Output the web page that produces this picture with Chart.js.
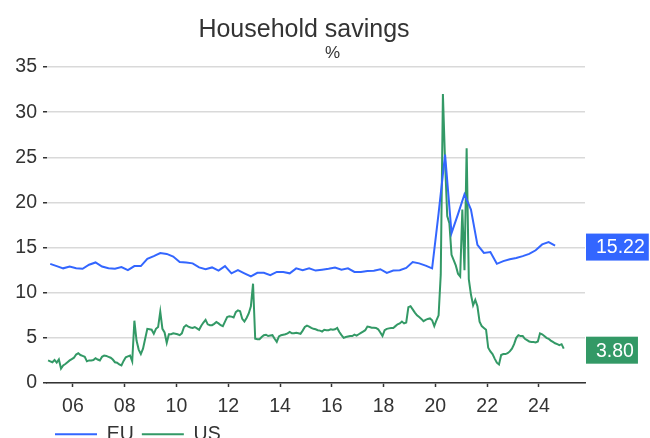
<!DOCTYPE html>
<html>
<head>
<meta charset="utf-8">
<script src="https://cdn.jsdelivr.net/npm/chart.js@4.4.1/dist/chart.umd.min.js"></script>
<style>
  html, body { margin: 0; padding: 0; overflow: hidden; background: #ffffff; }
  canvas { display: block; }
</style>
</head>
<body>
<canvas id="chart" width="650" height="454"></canvas>
<script>
// ---------------- data ----------------
const chartTitle = 'Household savings';
const chartSubtitle = '%';
const seriesNames = ['EU', 'US'];

// EU: quarterly, starting 2005 Q1
const euStartYear = 2005;
const euValues = [
  13.2, 12.95, 12.7, 12.9,      // 2005
  12.7, 12.65, 13.1, 13.35,     // 2006
  12.9, 12.7, 12.65, 12.85,     // 2007
  12.5, 12.95, 12.95, 13.75,    // 2008
  14.05, 14.4, 14.3, 14.0,      // 2009
  13.4, 13.35, 13.25, 12.8,     // 2010
  12.6, 12.8, 12.45, 12.95,     // 2011
  12.15, 12.5, 12.15, 11.8,     // 2012
  12.2, 12.2, 11.95, 12.3,      // 2013
  12.3, 12.15, 12.7, 12.5,      // 2014
  12.7, 12.45, 12.55, 12.65,    // 2015
  12.8, 12.55, 12.7, 12.3,      // 2016
  12.3, 12.4, 12.43, 12.6,      // 2017
  12.2, 12.45, 12.5, 12.75,     // 2018
  13.4, 13.25, 13.0, 12.7,      // 2019
  18.8, 25.3, 16.6, 18.7,       // 2020
  20.9, 19.2, 15.3, 14.4,       // 2021
  14.5, 13.2, 13.5, 13.7,       // 2022
  13.85, 14.05, 14.3, 14.7,     // 2023
  15.35, 15.6, 15.22            // 2024
];

// US: monthly, starting January 2005
const usStartYear = 2005;
const usValues = [
  2.5, 2.4, 2.3, 2.55, 2.25, 2.6, 1.6, 1.95, 2.1, 2.3, 2.5, 2.65,        // 2005
  2.8, 3.15, 3.3, 3.1, 3.0, 2.9, 2.4, 2.5, 2.5, 2.55, 2.75, 2.6,         // 2006
  2.5, 2.9, 3.05, 3.0, 2.9, 2.8, 2.6, 2.3, 2.25, 2.05, 1.95, 2.45,       // 2007
  2.85, 2.95, 3.05, 2.4, 6.9, 4.7, 3.7, 3.2, 3.8, 4.9, 6.0, 5.95,        // 2008
  5.9, 5.45, 6.0, 6.2, 7.9, 6.0, 5.6, 4.45, 5.4, 5.4, 5.5, 5.45,         // 2009
  5.4, 5.3, 5.5, 6.2, 6.4, 6.25, 6.15, 6.1, 6.2, 6.05, 5.9, 6.35,        // 2010
  6.7, 7.0, 6.5, 6.4, 6.4, 6.55, 6.75, 6.6, 6.4, 6.3, 6.8, 7.3,          // 2011
  7.4, 7.35, 7.25, 7.85, 8.05, 7.95, 7.1, 6.8, 7.2, 7.7, 8.5, 11.0,      // 2012
  4.9, 4.85, 4.85, 5.1, 5.3, 5.35, 5.2, 5.25, 5.3, 4.9, 4.55, 5.15,      // 2013
  5.3, 5.35, 5.4, 5.5, 5.65, 5.5, 5.5, 5.55, 5.5, 5.45, 5.8, 6.2,        // 2014
  6.35, 6.25, 6.1, 6.0, 5.95, 5.85, 5.8, 5.7, 5.9, 5.85, 5.85, 5.95,     // 2015
  5.9, 5.95, 6.1, 5.65, 5.3, 5.0, 5.1, 5.15, 5.2, 5.2, 5.35, 5.25,       // 2016
  5.4, 5.55, 5.7, 5.85, 6.25, 6.2, 6.13, 6.12, 6.1, 5.95, 5.6, 5.2,      // 2017
  5.85, 6.0, 6.05, 6.1, 6.1, 6.3, 6.5, 6.6, 6.8, 6.6, 6.7, 8.4,          // 2018
  8.5, 8.15, 7.8, 7.5, 7.3, 7.1, 6.85, 7.0, 7.1, 7.15, 6.95, 6.3,        // 2019
  6.95, 7.5, 12.0, 32.0, 24.5, 18.5, 17.7, 14.2, 13.6, 13.0, 12.1, 11.8, // 2020
  19.2, 12.5, 26.0, 11.5, 9.8, 8.6, 9.2, 8.5, 6.8, 6.3, 6.1, 5.9,        // 2021
  3.9, 3.5, 3.2, 2.7, 2.25, 2.05, 3.1, 3.2, 3.2, 3.3, 3.5, 3.8,          // 2022
  4.3, 5.0, 5.3, 5.2, 5.2, 4.9, 4.75, 4.6, 4.55, 4.55, 4.5, 4.6,         // 2023
  5.5, 5.4, 5.2, 5.0, 4.9, 4.7, 4.55, 4.4, 4.3, 4.2, 4.3, 3.8            // 2024
];

const xTickYears = [2006, 2008, 2010, 2012, 2014, 2016, 2018, 2020, 2022, 2024];
const yTickValues = [0, 5, 10, 15, 20, 25, 30, 35];

// ---------------- styling ----------------
const FONT = '"Liberation Sans", Arial, Helvetica, sans-serif';
const TEXT = '#333333';
const BLUE = '#3366FF';
const GREEN = '#339966';

// date mapping: each observation at the middle of its period
const euPoints = euValues.map((v, i) => ({ x: euStartYear + (i + 0.5) / 4, y: v }));
const usPoints = usValues.map((v, i) => ({ x: usStartYear + (i + 0.5) / 12, y: v }));

const decorPlugin = {
  id: 'decor',
  afterDraw(chart) {
    const ctx = chart.ctx;
    const ys = chart.scales.y;
    const area = chart.chartArea;
    ctx.save();
    // last-value boxes
    ctx.font = '19.5px ' + FONT;
    chart.data.datasets.forEach(ds => {
      const last = ds.data[ds.data.length - 1].y;
      const txt = last.toFixed(2);
      const y = ys.getPixelForValue(last) + 1.5;
      const w = ctx.measureText(txt).width + 14;
      const x = area.right + 1;
      ctx.fillStyle = ds.borderColor;
      ctx.fillRect(x, y - 13.5, w, 27);
      ctx.fillStyle = '#ffffff';
      ctx.textAlign = 'left';
      ctx.textBaseline = 'middle';
      ctx.fillText(txt, x + 10, y + 1);
    });
    // title + subtitle
    ctx.fillStyle = TEXT;
    ctx.textAlign = 'center';
    ctx.textBaseline = 'alphabetic';
    ctx.font = '25px ' + FONT;
    ctx.fillText(chartTitle, 304, 37);
    ctx.font = '17px ' + FONT;
    ctx.fillText(chartSubtitle, 332.5, 57.5);
    ctx.restore();
  }
};

new Chart(document.getElementById('chart'), {
  type: 'line',
  data: {
    datasets: [
      { label: seriesNames[0], data: euPoints, borderColor: BLUE, backgroundColor: BLUE,
        borderWidth: 2, pointRadius: 0, tension: 0 },
      { label: seriesNames[1], data: usPoints, borderColor: GREEN, backgroundColor: GREEN,
        borderWidth: 2, pointRadius: 0, tension: 0 }
    ]
  },
  options: {
    responsive: false,
    animation: false,
    devicePixelRatio: 1,
    layout: { padding: { top: 67, right: 65, left: 0, bottom: 0 } },
    plugins: {
      title: { display: false },
      tooltip: { enabled: false },
      legend: {
        position: 'bottom',
        align: 'start',
        fullSize: false,
        labels: {
          usePointStyle: true,
          pointStyle: 'line',
          pointStyleWidth: 42,
          padding: 8,
          color: TEXT,
          font: { family: FONT, size: 19.5 }
        }
      }
    },
    scales: {
      x: {
        type: 'linear',
        min: 2005,
        max: 2025.78,
        afterBuildTicks: s => { s.ticks = xTickYears.map(v => ({ value: v })); },
        afterFit: s => { s.height = 33.5; },
        grid: { drawOnChartArea: false, drawTicks: true, tickLength: 4, tickColor: TEXT, tickWidth: 1.5 },
        border: { display: true, color: TEXT, width: 1.5 },
        ticks: {
          padding: 8, color: TEXT, maxRotation: 0, autoSkip: false,
          font: { family: FONT, size: 19.5 },
          callback: v => String(v % 100).padStart(2, '0')
        }
      },
      y: {
        min: 0,
        max: 35,
        afterBuildTicks: s => { s.ticks = yTickValues.map(v => ({ value: v })); },
        afterFit: s => { s.width = 47; },
        grid: { color: '#d9d9d9', lineWidth: 1.5, tickLength: 4, tickColor: TEXT, tickWidth: 1.5 },
        border: { display: false },
        ticks: { padding: 6, color: TEXT, font: { family: FONT, size: 19.5 } }
      }
    }
  },
  plugins: [decorPlugin]
});
</script>
</body>
</html>
